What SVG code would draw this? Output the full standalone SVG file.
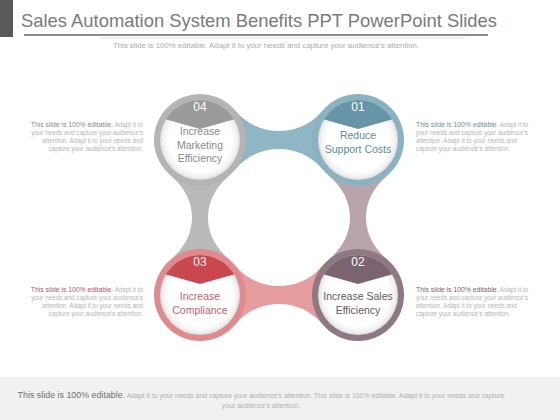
<svg xmlns="http://www.w3.org/2000/svg" width="560" height="420" viewBox="0 0 560 420">
<defs>
<style>
text{font-family:"Liberation Sans",Arial,sans-serif}
.num{font-size:12px;fill:#fff;text-anchor:middle}
.lbl{font-size:10.5px;text-anchor:middle}
.side{font-size:6.3px;fill:#b5b5b5}
.lead{font-size:6.8px}
</style>
<radialGradient id="inner" cx="0.5" cy="0.5" r="0.5">
<stop offset="0.78" stop-color="#ffffff"/>
<stop offset="0.93" stop-color="#f1f1f1"/>
<stop offset="1" stop-color="#dcdcdc"/>
</radialGradient>
<clipPath id="c04"><circle cx="200" cy="140" r="40"/></clipPath>
<clipPath id="c01"><circle cx="358" cy="140" r="40"/></clipPath>
<clipPath id="c03"><circle cx="200" cy="295" r="40"/></clipPath>
<clipPath id="c02"><circle cx="358" cy="295" r="40"/></clipPath>
</defs>
<rect width="560" height="420" fill="#ffffff"/>
<rect x="0" y="0" width="13" height="37" fill="#595959"/>
<text x="21" y="27" font-size="18.4" fill="#7a7a7a">Sales Automation System Benefits PPT PowerPoint Slides</text>
<line x1="24" y1="35" x2="488" y2="35" stroke="#8c8c8c" stroke-width="2"/>
<line x1="100" y1="38" x2="465" y2="38" stroke="#cfcfcf" stroke-width="0.6"/>
<text x="266" y="48" font-size="7.8" fill="#ababab" text-anchor="middle">This slide is 100% editable.  Adapt it to your needs and capture your audience's attention.</text>

<g id="connectors">
<path d="M235.2,110.4 C248,125.8 265,131 279,131 C293,131 310,125.8 322.8,110.4 L358,140 L322.8,169.6 C310,154.2 293,149 279,149 C265,149 248,154.2 235.2,169.6 L200,140 Z" fill="#8fb6c4"/>
<path d="M170.4,175.2 C185.7,188.1 192,203 192,217.5 C192,232 185.7,246.9 170.4,259.8 L200,295 L229.6,259.8 C214.3,246.9 208,232 208,217.5 C208,203 214.3,188.1 229.6,175.2 L200,140 Z" fill="#b9b9b9"/>
<path d="M328.4,175.2 C343.7,188.1 350,203 350,217.5 C350,232 343.7,246.9 328.4,259.8 L358,295 L387.6,259.8 C372.3,246.9 366,232 366,217.5 C366,203 372.3,188.1 387.6,175.2 L358,140 Z" fill="#b9a4ae"/>
<path d="M235.2,265.4 C248,280.8 265,286 279,286 C293,286 310,280.8 322.8,265.4 L358,295 L322.8,324.6 C310,309.2 293,304 279,304 C265,304 248,309.2 235.2,324.6 L200,295 Z" fill="#e59da0"/>
</g>

<g id="node04">
<circle cx="200" cy="140" r="46" fill="#b4b4b4"/>
<circle cx="200" cy="140" r="40" fill="url(#inner)"/>
<path d="M150,90 L250,90 L250,115 L200,129 L150,115 Z" fill="#9a9a9a" clip-path="url(#c04)"/>
<text class="num" x="200" y="111">04</text>
<text class="lbl" fill="#8a8a8a"><tspan x="200" y="135">Increase</tspan><tspan x="200" y="148.5">Marketing</tspan><tspan x="200" y="162">Efficiency</tspan></text>
</g>

<g id="node01">
<circle cx="358" cy="140" r="46" fill="#8bb2c0"/>
<circle cx="358" cy="140" r="40" fill="url(#inner)"/>
<path d="M308,90 L408,90 L408,115 L358,129 L308,115 Z" fill="#6595a7" clip-path="url(#c01)"/>
<text class="num" x="358" y="111">01</text>
<text class="lbl" fill="#5a8c9e"><tspan x="358" y="139">Reduce</tspan><tspan x="358" y="153">Support Costs</tspan></text>
</g>

<g id="node03">
<circle cx="200" cy="295" r="46" fill="#e08a8e"/>
<circle cx="200" cy="295" r="40" fill="url(#inner)"/>
<path d="M150,245 L250,245 L250,270 L200,284 L150,270 Z" fill="#c9474e" clip-path="url(#c03)"/>
<text class="num" x="200" y="266">03</text>
<text class="lbl" fill="#c26268"><tspan x="200" y="300">Increase</tspan><tspan x="200" y="313.5">Compliance</tspan></text>
</g>

<g id="node02">
<circle cx="358" cy="295" r="46" fill="#8e7883"/>
<circle cx="358" cy="295" r="40" fill="url(#inner)"/>
<path d="M308,245 L408,245 L408,270 L358,284 L308,270 Z" fill="#7b6470" clip-path="url(#c02)"/>
<text class="num" x="358" y="266">02</text>
<text class="lbl" fill="#6a5560"><tspan x="358" y="300">Increase Sales</tspan><tspan x="358" y="314">Efficiency</tspan></text>
</g>

<g id="text04" text-anchor="end">
<text class="side" x="143" y="127"><tspan class="lead" fill="#8a8a8a">This slide is 100% editable.</tspan> Adapt it to</text>
<text class="side" x="143" y="135">your needs and capture your audience's</text>
<text class="side" x="143" y="143">attention. Adapt it to your needs and</text>
<text class="side" x="143" y="151">capture your audience's attention.</text>
</g>
<g id="text01">
<text class="side" x="416" y="127"><tspan class="lead" fill="#5f93a5">This slide is 100% editable.</tspan> Adapt it to</text>
<text class="side" x="416" y="135">your needs and capture your audience's</text>
<text class="side" x="416" y="143">attention. Adapt it to your needs and</text>
<text class="side" x="416" y="151">capture your audience's attention.</text>
</g>
<g id="text03" text-anchor="end">
<text class="side" x="143" y="292"><tspan class="lead" fill="#b8555b">This slide is 100% editable.</tspan> Adapt it to</text>
<text class="side" x="143" y="300">your needs and capture your audience's</text>
<text class="side" x="143" y="308">attention. Adapt it to your needs and</text>
<text class="side" x="143" y="316">capture your audience's attention.</text>
</g>
<g id="text02">
<text class="side" x="416" y="292"><tspan class="lead" fill="#7b6470">This slide is 100% editable.</tspan> Adapt it to</text>
<text class="side" x="416" y="300">your needs and capture your audience's</text>
<text class="side" x="416" y="308">attention. Adapt it to your needs and</text>
<text class="side" x="416" y="316">capture your audience's attention.</text>
</g>

<rect x="0" y="377" width="560" height="43" fill="#f1f1f1"/>
<text x="261" y="398" font-size="6.9" fill="#b0b0b0" text-anchor="middle"><tspan font-size="8.9" fill="#6f6f6f">This slide is 100% editable.</tspan> Adapt it to your needs and capture your audience's attention. This slide is 100% editable. Adapt it to your needs and capture</text>
<text x="261" y="408" font-size="6.9" fill="#b0b0b0" text-anchor="middle">your audience's attention.</text>
</svg>
